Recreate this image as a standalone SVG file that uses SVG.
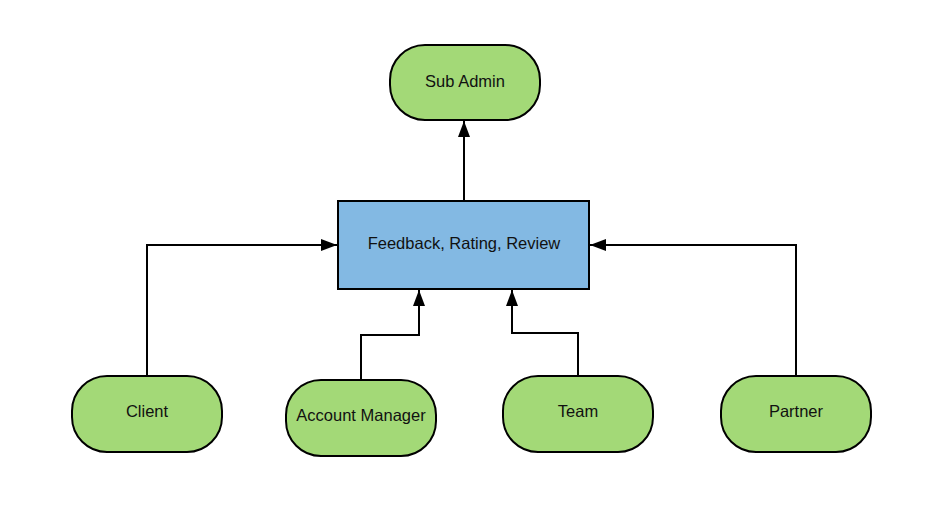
<svg xmlns="http://www.w3.org/2000/svg" width="930" height="511" viewBox="0 0 930 511">
<style>
.term{fill:#a3d977;stroke:#000;stroke-width:2}
.proc{fill:#83b9e3;stroke:#000;stroke-width:2}
.lbl{font-family:"Liberation Sans",Arial,sans-serif;font-size:16.5px;fill:#111;text-anchor:middle;dominant-baseline:central}
.conn{fill:none;stroke:#000;stroke-width:2}
</style>
<defs>
<marker id="arr" viewBox="0 0 16 12" refX="16" refY="6" markerWidth="16" markerHeight="12" markerUnits="userSpaceOnUse" orient="auto">
<path d="M0,0 L16,6 L0,12 Z" fill="#000"/>
</marker>
</defs>
<rect width="930" height="511" fill="#fff"/>
<g id="connectors">
<path class="conn" d="M464,201 V121" marker-end="url(#arr)"/>
<path class="conn" d="M147,376 V245 H337" marker-end="url(#arr)"/>
<path class="conn" d="M361,380 V335 H419 V290" marker-end="url(#arr)"/>
<path class="conn" d="M578,376 V333 H512 V290" marker-end="url(#arr)"/>
<path class="conn" d="M796,376 V245 H590" marker-end="url(#arr)"/>
</g>
<g id="subadmin">
<rect class="term" x="390" y="45" width="150" height="75" rx="35" ry="35"/>
<text class="lbl" x="465" y="81">Sub Admin</text>
</g>
<g id="feedback">
<rect class="proc" x="338" y="201" width="251" height="88"/>
<text class="lbl" x="464" y="243">Feedback, Rating, Review</text>
</g>
<g id="client">
<rect class="term" x="72" y="376" width="150" height="76" rx="35" ry="35"/>
<text class="lbl" x="147" y="411">Client</text>
</g>
<g id="accountmanager">
<rect class="term" x="286" y="380" width="150" height="76" rx="35" ry="35"/>
<text class="lbl" x="361" y="415">Account Manager</text>
</g>
<g id="team">
<rect class="term" x="503" y="376" width="150" height="76" rx="35" ry="35"/>
<text class="lbl" x="578" y="411">Team</text>
</g>
<g id="partner">
<rect class="term" x="721" y="376" width="150" height="76" rx="35" ry="35"/>
<text class="lbl" x="796" y="411">Partner</text>
</g>
</svg>
